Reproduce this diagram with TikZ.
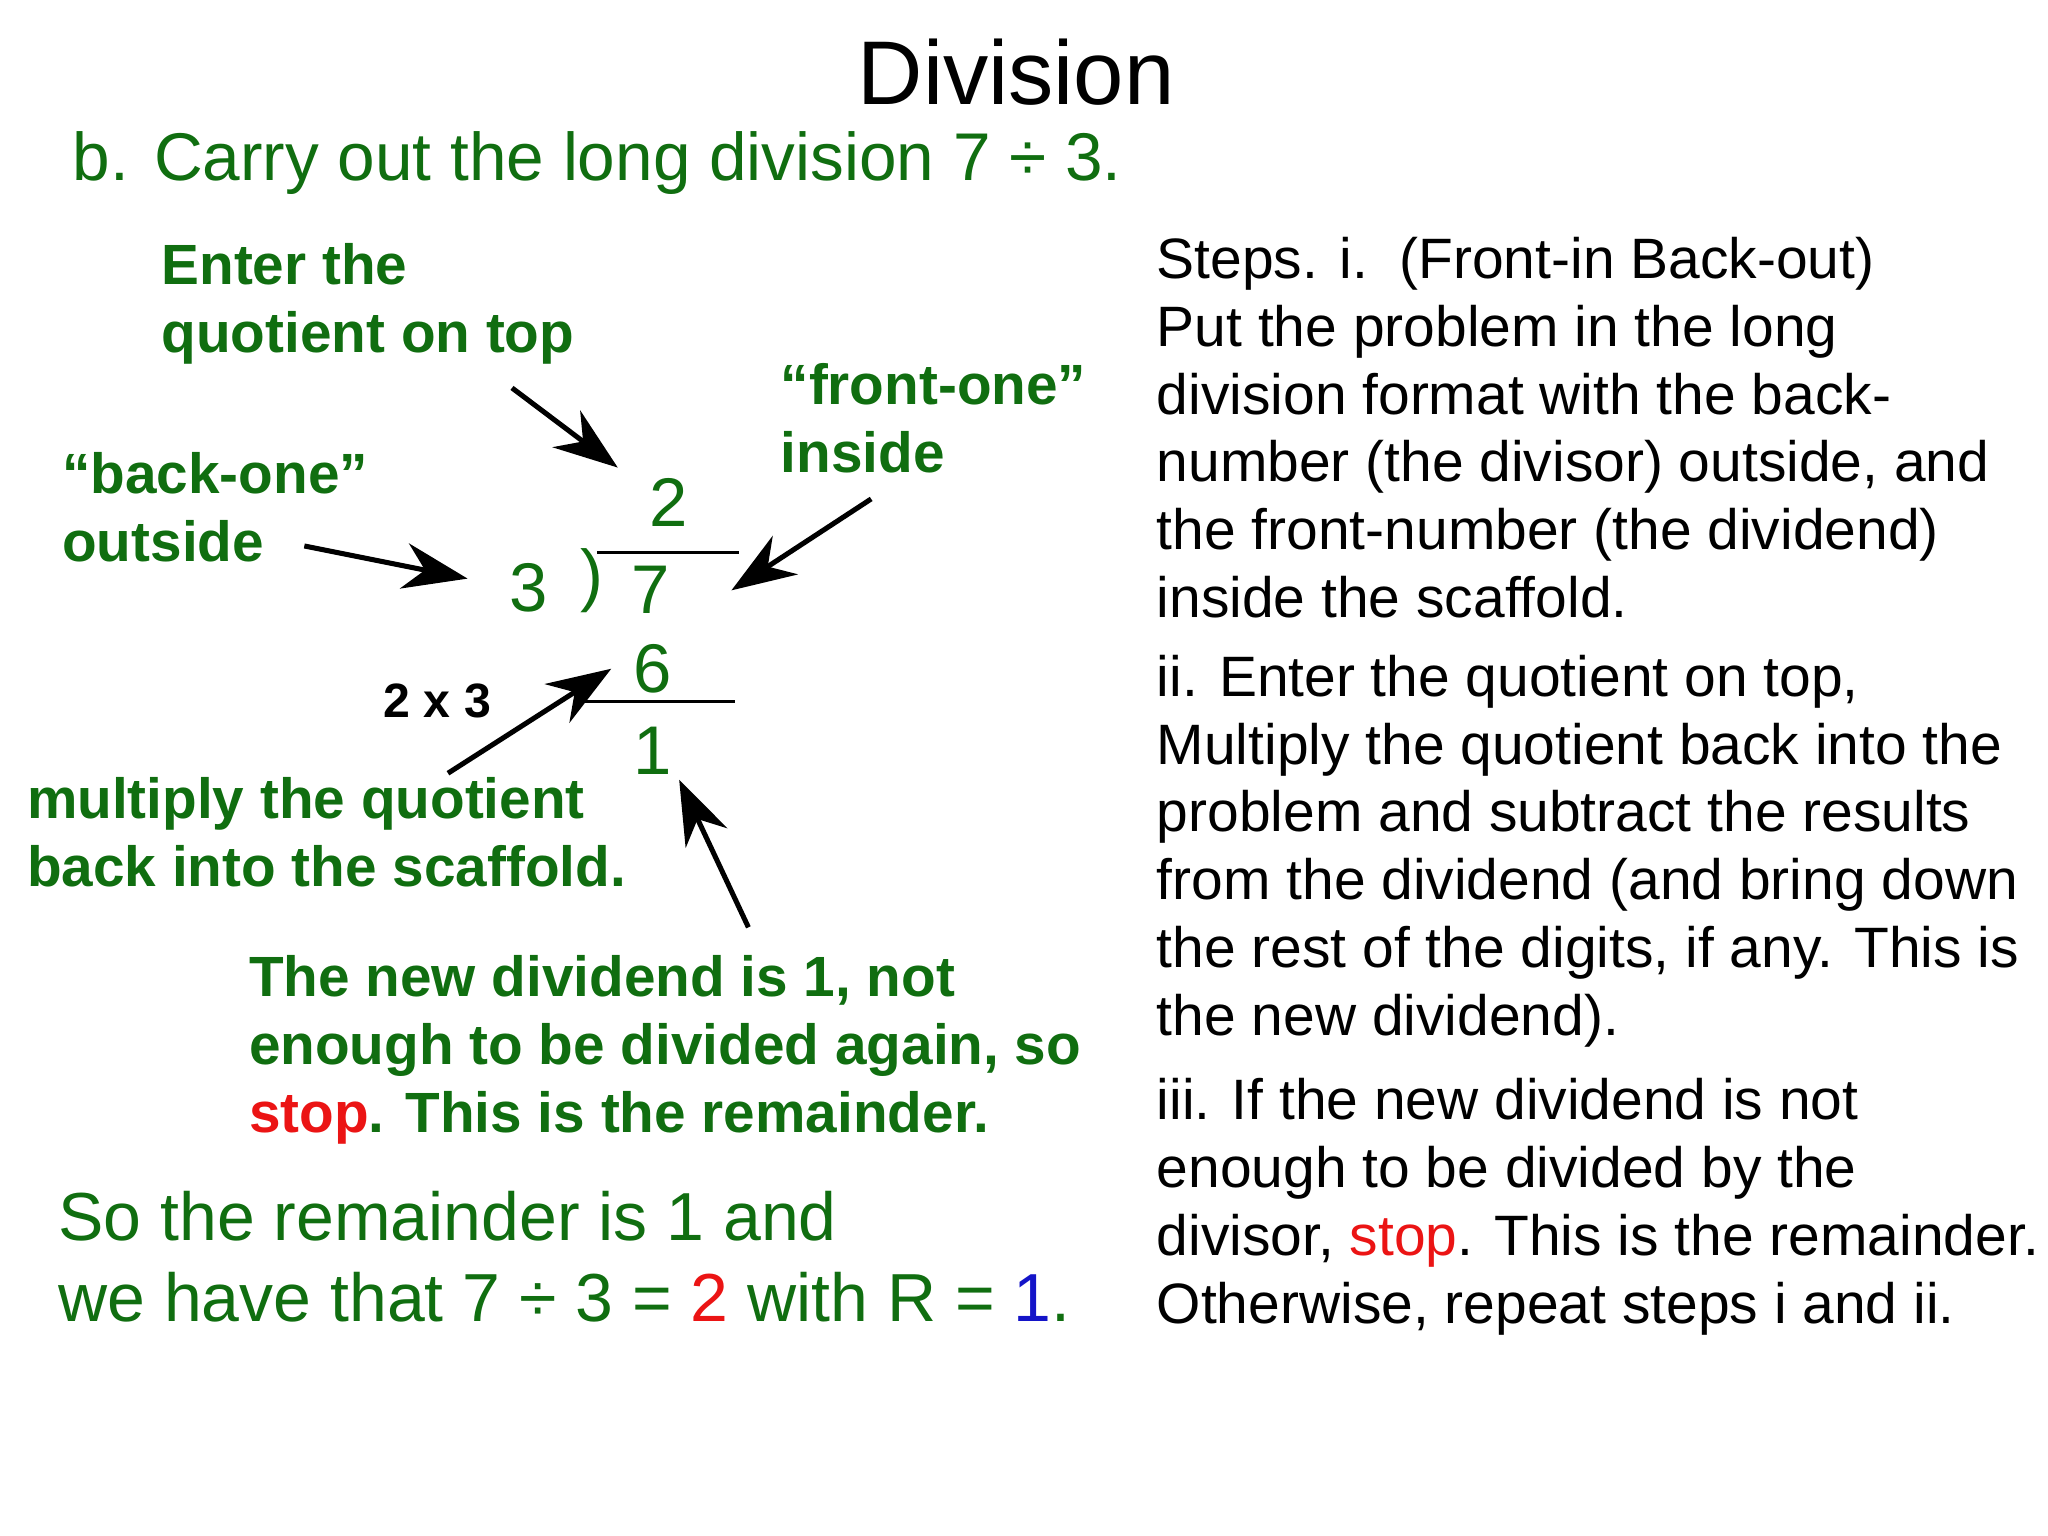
\documentclass[tikz,border=0pt]{standalone}
\usepackage{fontspec}
\setmainfont{Liberation Sans}
\usetikzlibrary{arrows.meta}
\definecolor{dg}{RGB}{16,110,16}
\definecolor{rd}{RGB}{235,20,20}
\definecolor{bl}{RGB}{20,20,200}
\begin{document}
\begin{tikzpicture}[x=0.01cm,y=-0.01cm,
  lab/.style={anchor=base west,inner sep=0,text=dg,font=\fontsize{12.35}{14.8}\selectfont\bfseries},
  txt/.style={anchor=base west,inner sep=0,font=\fontsize{12.4}{14.8}\selectfont},
  dig/.style={anchor=base,inner sep=0,text=dg,font=\fontsize{15}{18}\selectfont},
  arr/.style={-{Stealth[length=14pt,width=10pt]},line width=1.1pt}]
\path[use as bounding box,fill=white] (0,0) rectangle (1568,1176);
\node[anchor=base,inner sep=0,font=\fontsize{19.7}{24}\selectfont] (title) at (778,80) {Division};
\node[anchor=base west,inner sep=0,text=dg,font=\fontsize{14.7}{18}\selectfont] (sub) at (55,138) {b. Carry out the long division 7 ÷ 3.};
% left labels
\node[lab] (e1) at (123,218) {Enter the};
\node[lab] (e2) at (123,270) {quotient on top};
\node[lab] (f1) at (597,310) {“front-one”};
\node[lab] (f2) at (597,362) {inside};
\node[lab] (b1) at (47,378) {“back-one”};
\node[lab] (b2) at (47,430) {outside};
\node[anchor=base west,inner sep=0,font=\fontsize{10.5}{13}\selectfont\bfseries] (m) at (293,549) {2 x 3};
\node[lab] (q1) at (20,627) {multiply the quotient};
\node[lab] (q2) at (20,679) {back into the scaffold.};
\node[lab] (n1) at (190,763) {The new dividend is 1, not};
\node[lab] (n2) at (190,815) {enough to be divided again, so};
\node[lab] (n3) at (190,867) {\textcolor{rd}{stop}. This is the remainder.};
\node[anchor=base west,inner sep=0,text=dg,font=\fontsize{14.8}{18}\selectfont] (s1) at (44,950) {So the remainder is 1 and};
\node[anchor=base west,inner sep=0,text=dg,font=\fontsize{14.8}{18}\selectfont] (s2) at (44,1012) {we have that 7 ÷ 3 = \textcolor{rd}{2} with R = \textcolor{bl}{1}.};
% division
\node[dig] (d2) at (512,403) {2};
\node[dig] (d3) at (405,468) {3};
\node[dig] (par) at (453,458) {)};
\node[dig] (d7) at (498,470) {7};
\node[dig] (d6) at (500,530) {6};
\node[dig] (d1) at (500,593) {1};
\coordinate (l1a) at (457,423); \coordinate (l1b) at (566,423);
\coordinate (l2a) at (447,537); \coordinate (l2b) at (563,537);
\draw[line width=0.6pt] (l1a) -- (l1b);
\draw[line width=0.6pt] (l2a) -- (l2b);
% arrows
\coordinate (a1s) at (392,297); \coordinate (a1e) at (473,358);
\coordinate (a2s) at (233,418); \coordinate (a2e) at (358,443);
\coordinate (a3s) at (667,382); \coordinate (a3e) at (560,452);
\coordinate (a4s) at (343,592); \coordinate (a4e) at (468,512);
\coordinate (a5s) at (573,710); \coordinate (a5e) at (520,597);
\draw[arr] (a1s) -- (a1e);
\draw[arr] (a2s) -- (a2e);
\draw[arr] (a3s) -- (a3e);
\draw[arr] (a4s) -- (a4e);
\draw[arr] (a5s) -- (a5e);
% right text
\node[txt] (r1) at (885,213) {Steps. i.\ \ (Front-in Back-out)};
\node[txt] (r2) at (885,265) {Put the problem in the long};
\node[txt] (r3) at (885,317) {division format with the back-};
\node[txt] (r4) at (885,369) {number (the divisor) outside, and};
\node[txt] (r5) at (885,421) {the front-number (the dividend)};
\node[txt] (r6) at (885,473) {inside the scaffold.};
\node[txt] (r7) at (885,533) {ii. Enter the quotient on top,};
\node[txt] (r8) at (885,585) {Multiply the quotient back into the};
\node[txt] (r9) at (885,637) {problem and subtract the results};
\node[txt] (r10) at (885,689) {from the dividend (and bring down};
\node[txt] (r11) at (885,741) {the rest of the digits, if any. This is};
\node[txt] (r12) at (885,793) {the new dividend).};
\node[txt] (r13) at (885,857) {iii. If the new dividend is not};
\node[txt] (r14) at (885,909) {enough to be divided by the};
\node[txt] (r15) at (885,961) {divisor, \textcolor{rd}{stop}. This is the remainder.};
\node[txt] (r16) at (885,1013) {Otherwise, repeat steps i and ii.};
\end{tikzpicture}
\end{document}
